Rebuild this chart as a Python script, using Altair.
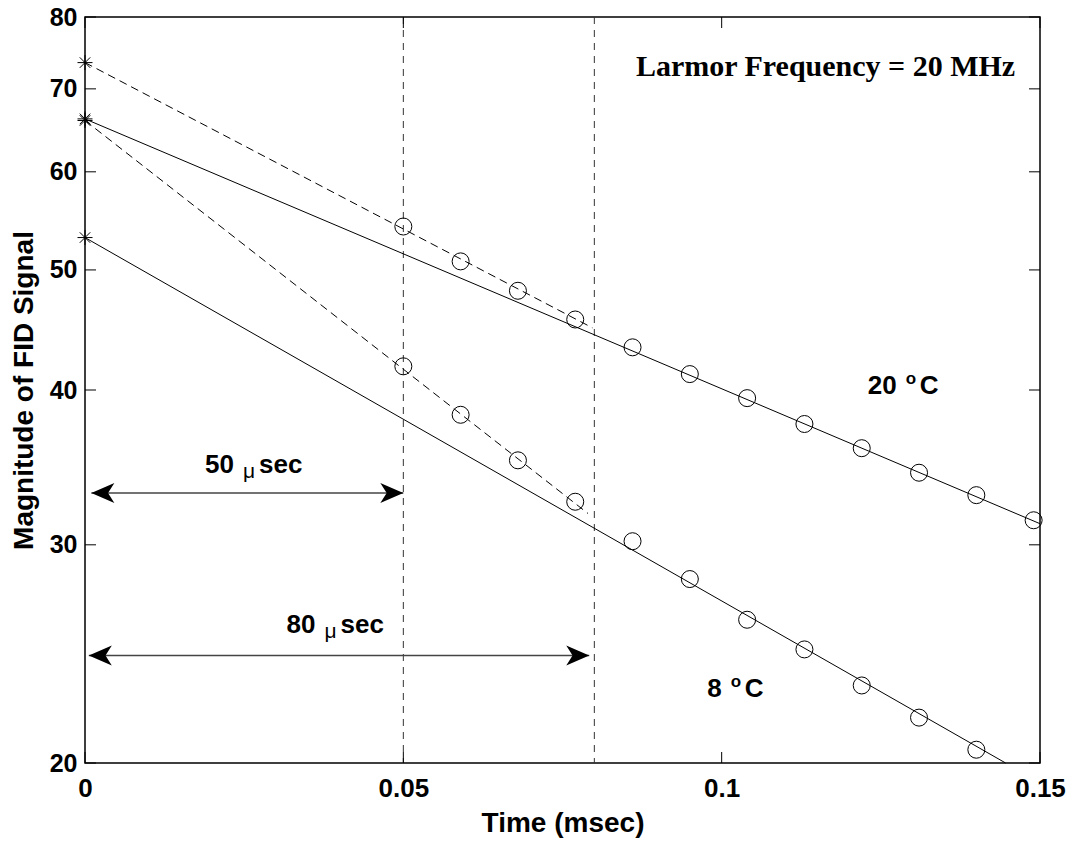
import altair as alt
import pandas as pd

# echo-peak times (msec) and FID magnitudes
t_20c = [0.050, 0.059, 0.068, 0.077, 0.086, 0.095, 0.104, 0.113, 0.122, 0.131, 0.140, 0.149]
amp_20c = [54.2, 50.8, 48.1, 45.6, 43.3, 41.2, 39.4, 37.55, 35.9, 34.3, 32.9, 31.4]
t_8c = [0.050, 0.059, 0.068, 0.077, 0.086, 0.095, 0.104, 0.113, 0.122, 0.131, 0.140]
amp_8c = [41.8, 38.2, 35.1, 32.5, 30.2, 28.15, 26.1, 24.7, 23.1, 21.76, 20.5]

# extrapolated amplitudes at t = 0 (asterisks)
t0_amp = [73.5, 66.2, 66.0, 53.1]

# exponential fits (straight on the log axis): start/end points
fit_names = ["20C all", "20C early", "8C all", "8C early"]
fit_style = ["solid", "dashed", "solid", "dashed"]
fit_t = [[0.0, 0.15], [0.0, 0.0797], [0.0, 0.1446], [0.0, 0.079]]
fit_amp = [[66.2, 31.2], [73.5, 44.9], [53.1, 20.0], [66.0, 31.8]]

# window markers and the double arrows
marker_times = [0.05, 0.08]
arrow_start = [0.001, 0.0006]
arrow_end = [0.05, 0.0792]
arrow_amp = [33.03, 24.42]

span_text = ["50", "80"]
span_t = [0.0234, 0.0362]
span_amp = [34.28, 25.46]

temp_text = ["20", "8"]
temp_t = [0.1275, 0.1000]
temp_amp = [39.7, 22.6]

x_ticks = [0, 0.05, 0.1, 0.15]
y_ticks = [20, 30, 40, 50, 60, 70, 80]

SANS = "Liberation Sans"
SERIF = "Liberation Serif"

xs = alt.Scale(domain=[0, 0.15], nice=False, zero=False)
ys = alt.Scale(type="log", domain=[20, 80], nice=False)

xenc = alt.X(
    "t:Q", scale=xs, title="Time (msec)",
    axis=alt.Axis(values=x_ticks, labelExpr="format(datum.value, '.2~f')",
                  labelPadding=12, labelFlush=False, labelOverlap=False,
                  titleX=477.5, titleY=60, titleAlign="center", titleBaseline="middle"),
)
yenc = alt.Y(
    "v:Q", scale=ys, title="Magnitude of FID Signal",
    axis=alt.Axis(values=y_ticks, format="d", labelPadding=8, labelOverlap=False,
                  labelFontSize=25, titleX=-61, titleY=373, titleAngle=270,
                  titleAlign="center", titleBaseline="middle"),
)

fits = pd.DataFrame([
    {"name": n, "style": s, "t": tt, "v": vv}
    for n, s, ts, vs in zip(fit_names, fit_style, fit_t, fit_amp)
    for tt, vv in zip(ts, vs)
])
circles = pd.DataFrame({"t": t_20c + t_8c, "v": amp_20c + amp_8c})
stars = pd.DataFrame({"t": [0.0] * len(t0_amp), "v": t0_amp})
markers = pd.DataFrame({"t": marker_times})
arrows = pd.DataFrame({"t": arrow_start, "t1": arrow_end, "v": arrow_amp})
arrow_tips = pd.DataFrame({"t": arrow_end, "v": arrow_amp})
spans = pd.DataFrame({"t": span_t, "v": span_amp, "label": span_text})
temps = pd.DataFrame({"t": temp_t, "v": temp_amp, "label": temp_text})
note = pd.DataFrame({"t": [0.1461], "v": [71.7], "label": ["Larmor Frequency = 20 MHz"]})

bottom_ticks = pd.DataFrame({"t": x_ticks, "v": [20] * len(x_ticks)})
top_ticks = pd.DataFrame({"t": x_ticks, "v": [80] * len(x_ticks)})
left_ticks = pd.DataFrame({"t": [0.0] * len(y_ticks), "v": y_ticks})
right_ticks = pd.DataFrame({"t": [0.15] * len(y_ticks), "v": y_ticks})

STAR = "M-1,0L1,0M0,-1L0,1M-0.7,-0.7L0.7,0.7M-0.7,0.7L0.7,-0.7"
HEAD_LEFT = "M0,0L2,-0.87L1.45,0L2,0.87Z"
HEAD_RIGHT = "M0,0L-2,-0.87L-1.45,0L-2,0.87Z"

base = alt.Chart(fits).encode(x=xenc, y=yenc, detail="name:N")
solid = base.mark_line(color="black", strokeWidth=1).transform_filter(alt.datum.style == "solid")
dashed = base.mark_line(color="black", strokeWidth=1, strokeDash=[8, 5]).transform_filter(
    alt.datum.style == "dashed")

vlines = alt.Chart(markers).mark_rule(color="#333", strokeWidth=1, strokeDash=[7, 6]).encode(x=xenc)

dots = alt.Chart(circles).mark_point(
    shape="circle", filled=False, size=289, color="black", strokeWidth=1, opacity=1
).encode(x=xenc, y=yenc)
asterisks = alt.Chart(stars).mark_point(
    shape=STAR, filled=False, size=225, color="black", strokeWidth=1, opacity=1
).encode(x=xenc, y=yenc)

shafts = alt.Chart(arrows).mark_rule(color="#444", strokeWidth=1.5).encode(
    x=xenc, x2=alt.X2("t1:Q"), y=yenc)
heads_l = alt.Chart(arrows).mark_point(
    shape=HEAD_LEFT, filled=True, size=529, color="black", opacity=1, strokeWidth=0
).encode(x=xenc, y=yenc)
heads_r = alt.Chart(arrow_tips).mark_point(
    shape=HEAD_RIGHT, filled=True, size=529, color="black", opacity=1, strokeWidth=0
).encode(x=xenc, y=yenc)

label_style = dict(font=SANS, fontWeight="bold", color="black", baseline="alphabetic")
span_num = alt.Chart(spans).mark_text(align="right", fontSize=26, **label_style).encode(
    x=xenc, y=yenc, text="label:N")
span_mu = alt.Chart(spans).mark_text(
    align="left", dx=9, dy=5, fontSize=21, font=SANS, color="black", baseline="alphabetic"
).encode(x=xenc, y=yenc, text=alt.value("μ"))
span_sec = alt.Chart(spans).mark_text(align="left", dx=25, fontSize=26, **label_style).encode(
    x=xenc, y=yenc, text=alt.value("sec"))

temp_num = alt.Chart(temps).mark_text(align="right", fontSize=26, **label_style).encode(
    x=xenc, y=yenc, text="label:N")
temp_o = alt.Chart(temps).mark_text(align="left", dx=9, dy=-10, fontSize=17, **label_style).encode(
    x=xenc, y=yenc, text=alt.value("o"))
temp_c = alt.Chart(temps).mark_text(align="left", dx=23, fontSize=26, **label_style).encode(
    x=xenc, y=yenc, text=alt.value("C"))

larmor = alt.Chart(note).mark_text(
    align="right", baseline="alphabetic", font=SERIF, fontSize=30, fontWeight="bold", color="black"
).encode(x=xenc, y=yenc, text="label:N")

tick_style = dict(color="black", size=11, thickness=1, opacity=1)
t_bottom = alt.Chart(bottom_ticks).mark_tick(orient="vertical", yOffset=-5.5, **tick_style).encode(x=xenc, y=yenc)
t_top = alt.Chart(top_ticks).mark_tick(orient="vertical", yOffset=5.5, **tick_style).encode(x=xenc, y=yenc)
t_left = alt.Chart(left_ticks).mark_tick(orient="horizontal", xOffset=5.5, **tick_style).encode(x=xenc, y=yenc)
t_right = alt.Chart(right_ticks).mark_tick(orient="horizontal", xOffset=-5.5, **tick_style).encode(x=xenc, y=yenc)

chart = (
    alt.layer(
        vlines, solid, dashed, dots, asterisks, shafts, heads_l, heads_r,
        span_num, span_mu, span_sec, temp_num, temp_o, temp_c, larmor,
        t_bottom, t_top, t_left, t_right,
    )
    .properties(
        width=955, height=746, autosize="none",
        padding={"left": 77, "top": 9, "right": 30, "bottom": 75},
        background="white",
    )
    .configure_view(stroke="black", strokeWidth=1.5)
    .configure_axis(
        domain=False, ticks=False, tickSize=0, grid=False,
        labelFont=SANS, labelFontSize=26, labelFontWeight="bold", labelColor="black",
        titleFont=SANS, titleFontSize=28, titleFontWeight="bold", titleColor="black",
    )
)

chart.save("out.html", embed_options={"renderer": "svg", "actions": False})
